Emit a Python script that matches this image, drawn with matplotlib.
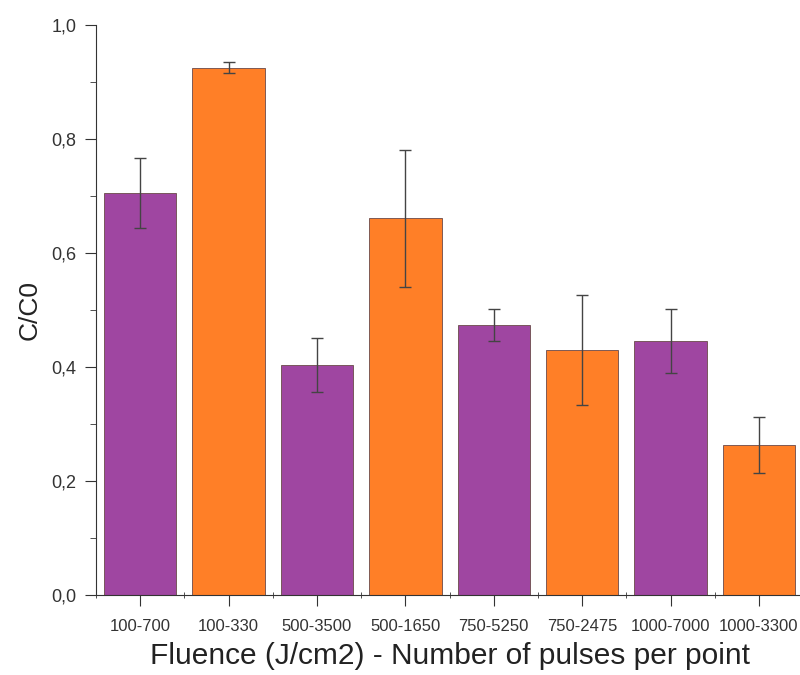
import matplotlib
matplotlib.use("Agg")
import matplotlib.pyplot as plt
from matplotlib.ticker import MultipleLocator, FuncFormatter, FixedLocator

categories = ["100-700", "100-330", "500-3500", "500-1650", "750-5250", "750-2475", "1000-7000", "1000-3300"]
values = [0.705, 0.925, 0.404, 0.661, 0.474, 0.430, 0.446, 0.263]
errors = [0.061, 0.010, 0.047, 0.120, 0.028, 0.097, 0.056, 0.049]
colors = ["#9F46A1", "#FF7F27", "#9F46A1", "#FF7F27", "#9F46A1", "#FF7F27", "#9F46A1", "#FF7F27"]

plt.rcParams['font.family'] = ['Liberation Sans', 'DejaVu Sans']
fig = plt.figure(figsize=(8, 6.75), dpi=100)
ax = fig.add_axes([0.12, 0.1185, 0.884, 0.8445])

x = list(range(len(categories)))
ax.bar(x, values, width=0.82, color=colors, edgecolor="#6a4a4a", linewidth=0.6,
       yerr=errors, error_kw=dict(ecolor="#444444", elinewidth=1.0, capsize=4, capthick=1.0))

ax.set_xlim(-0.5, 7.5)
ax.set_ylim(0, 1.0)
ax.spines['top'].set_visible(False)
ax.spines['right'].set_visible(False)
ax.spines['left'].set_color("#333333")
ax.spines['bottom'].set_color("#333333")

ax.set_xticks(x)
ax.set_xticklabels(categories, fontsize=12, color="#333333")
ax.xaxis.set_minor_locator(FixedLocator([i + 0.5 for i in range(-1, 8)]))
ax.yaxis.set_major_locator(MultipleLocator(0.2))
ax.yaxis.set_minor_locator(MultipleLocator(0.1))
ax.yaxis.set_major_formatter(FuncFormatter(lambda v, p: f"{v:.1f}".replace(".", ",")))
for lab in ax.get_yticklabels():
    lab.set_color("#333333")
ax.tick_params(axis='y', which='major', length=8, direction='out', labelsize=13, pad=6, colors="#333333")
ax.tick_params(axis='y', which='minor', length=4, direction='out', colors="#333333")
ax.tick_params(axis='x', which='major', length=8, direction='out', pad=9, colors="#333333")
ax.tick_params(axis='x', which='minor', length=4, direction='inout', colors="#333333")

ax.set_ylabel("C/C0", fontsize=19, labelpad=7, color="#222222")
ax.set_xlabel("Fluence (J/cm2) - Number of pulses per point", fontsize=21.5, labelpad=6, color="#222222")

fig.savefig("out.png", dpi=100)
